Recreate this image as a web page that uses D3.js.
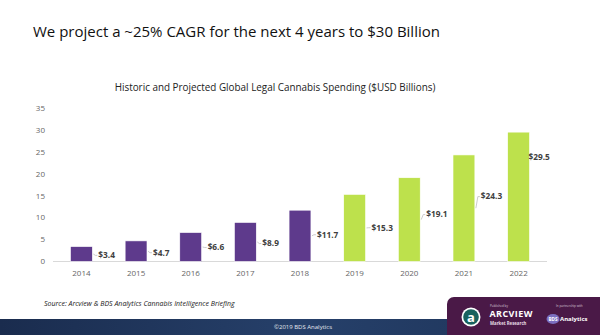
<!DOCTYPE html>
<html>
<head>
<meta charset="utf-8">
<script src="https://cdn.jsdelivr.net/npm/d3@7"></script>
<style>
  body { margin: 0; background: #fff; }
  svg { display: block; font-family: "Open Sans", sans-serif; }
</style>
</head>
<body>
<svg id="chart" width="600" height="335"></svg>
<script>
// chart data
const years = ["2014", "2015", "2016", "2017", "2018", "2019", "2020", "2021", "2022"];
const spend = [3.4, 4.7, 6.6, 8.9, 11.7, 15.3, 19.1, 24.3, 29.5];
const projected = [false, false, false, false, false, true, true, true, true];
// where each data label sits (in $B, same units as the y axis)
const labelAt = [1.4, 2.0, 3.2, 4.1, 6.1, 7.7, 10.7, 14.8, 23.9];
const yTicks = [0, 5, 10, 15, 20, 25, 30, 35];

const svg = d3.select("#chart");

const purple = "#5e3a8c", green = "#bde14c";

let x = d3.scaleBand()
    .domain(years)
    .range([53, 547])
    .paddingInner(0.6)
    .paddingOuter(0.32);

let y = d3.scaleLinear()
    .domain([0, 35])
    .range([261.5, 108]);

// slide title
svg.append("text")
    .attr("x", 33)
    .attr("y", 37)
    .style("font-size", "15px")
    .attr("fill", "#111")
    .text("We project a ~25% CAGR for the next 4 years to $30 Billion");

// chart title
svg.append("text")
    .attr("x", 275)
    .attr("y", 91)
    .style("text-anchor", "middle")
    .style("font-size", "9.9px")
    .attr("fill", "#222")
    .text("Historic and Projected Global Legal Cannabis Spending ($USD Billions)");

// y axis labels (no line)
svg.append("g")
    .selectAll("text")
    .data(yTicks)
    .enter()
    .append("text")
    .attr("x", 45)
    .attr("y", d => y(d))
    .attr("dy", "0.35em")
    .style("text-anchor", "end")
    .style("font-size", "8px")
    .attr("fill", "#666")
    .text(d => d);

// baseline
svg.append("line")
    .attr("x1", 53).attr("x2", 547)
    .attr("y1", y(0)).attr("y2", y(0))
    .attr("stroke", "#d9d9d9")
    .attr("stroke-width", 1);

// year labels
svg.append("g")
    .selectAll("text")
    .data(years)
    .enter()
    .append("text")
    .attr("x", d => x(d) + x.bandwidth() / 2)
    .attr("y", 276)
    .style("text-anchor", "middle")
    .style("font-size", "8px")
    .attr("fill", "#666")
    .text(d => d);

// bars
svg.append("g")
    .selectAll("rect")
    .data(years)
    .enter()
    .append("rect")
    .attr("x", d => x(d))
    .attr("y", (d, i) => y(spend[i]))
    .attr("width", x.bandwidth())
    .attr("height", (d, i) => y(0) - y(spend[i]))
    .attr("fill", (d, i) => projected[i] ? green : purple)
    .attr("stroke", "#fff")
    .attr("stroke-width", 0.6);

// leader lines + data labels
let last = years.length - 1;
let labels = svg.append("g");
years.forEach(function(d, i) {
    let bx = x(d) + x.bandwidth();
    let lx = i == last ? bx - 1 : bx + 6;
    let ly = y(labelAt[i]);
    let my = y(spend[i] / 2);
    if (i != last) {
        labels.append("path")
            .attr("d", `M${bx + 1},${my} L${lx - 3},${ly} L${lx - 1},${ly}`)
            .attr("fill", "none")
            .attr("stroke", "#bfbfbf")
            .attr("stroke-width", 0.8);
    }
    labels.append("text")
        .attr("x", lx)
        .attr("y", ly)
        .attr("dy", "0.35em")
        .style("font-size", "8.3px")
        .style("font-weight", "bold")
        .attr("fill", "#404040")
        .text("$" + spend[i].toFixed(1));
});

// source note
svg.append("text")
    .attr("x", 44)
    .attr("y", 306)
    .style("font-size", "7px")
    .style("font-style", "italic")
    .attr("fill", "#222")
    .text("Source: Arcview & BDS Analytics Cannabis Intelligence Briefing");

// footer band
let grad = svg.append("defs").append("linearGradient")
    .attr("id", "band").attr("x1", 0).attr("x2", 1);
grad.append("stop").attr("offset", 0).attr("stop-color", "#1a2c4e");
grad.append("stop").attr("offset", 0.5).attr("stop-color", "#26406a");
grad.append("stop").attr("offset", 1).attr("stop-color", "#1d3358");
svg.append("rect")
    .attr("x", 0).attr("y", 319)
    .attr("width", 600).attr("height", 16)
    .attr("fill", "url(#band)");
svg.append("text")
    .attr("x", 303)
    .attr("y", 328.5)
    .style("text-anchor", "middle")
    .style("font-size", "6px")
    .attr("fill", "#e6e9ef")
    .text("©2019 BDS Analytics");

// logo box
let logo = svg.append("g");
logo.append("rect")
    .attr("x", 447).attr("y", 297)
    .attr("width", 165).attr("height", 50)
    .attr("rx", 7)
    .attr("fill", "#4a1947");
logo.append("circle").attr("cx", 471).attr("cy", 317).attr("r", 9.5).attr("fill", "#fff");
logo.append("circle").attr("cx", 471).attr("cy", 317).attr("r", 7.8).attr("fill", "#17625e");
logo.append("text")
    .attr("x", 471).attr("y", 321.5)
    .style("text-anchor", "middle")
    .style("font-size", "13px")
    .style("font-weight", "bold")
    .attr("fill", "#fff")
    .text("a");
logo.append("text").attr("x", 490).attr("y", 307)
    .style("font-size", "3px").attr("fill", "#d8c8d6").text("Published by");
logo.append("text").attr("x", 489.5).attr("y", 317)
    .style("font-size", "9px").style("font-weight", "bold")
    .style("letter-spacing", "0.4px").attr("fill", "#fff").text("ARCVIEW");
logo.append("text").attr("x", 490).attr("y", 324.5)
    .style("font-size", "4.3px").style("font-weight", "bold")
    .attr("fill", "#e8dde6").text("Market Research");
logo.append("text").attr("x", 556).attr("y", 307)
    .style("font-size", "3px").attr("fill", "#d8c8d6").text("In partnership with");
logo.append("ellipse").attr("cx", 553).attr("cy", 319).attr("rx", 6.5).attr("ry", 5)
    .attr("fill", "#7b6fc0");
logo.append("text").attr("x", 553).attr("y", 320.8)
    .style("text-anchor", "middle")
    .style("font-size", "4.6px").style("font-weight", "bold")
    .attr("fill", "#fff").text("BDS");
logo.append("text").attr("x", 560).attr("y", 321)
    .style("font-size", "6px").style("font-weight", "bold")
    .attr("fill", "#fff").text("Analytics");
</script>
</body>
</html>
